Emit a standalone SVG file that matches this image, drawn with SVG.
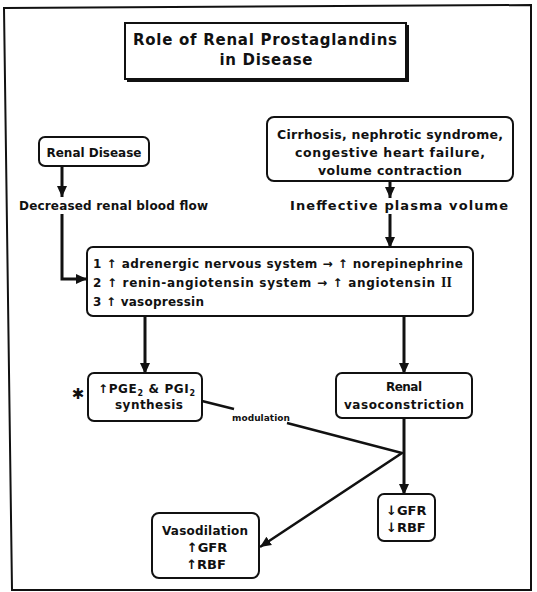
<svg xmlns="http://www.w3.org/2000/svg" width="537" height="592" viewBox="0 0 537 592">
<style>
text{font-family:"DejaVu Sans","Liberation Sans",sans-serif;font-weight:bold;fill:#111}
.box{fill:#fff;stroke:#111;stroke-width:2}
.c{stroke:#111;stroke-width:3;fill:none}
.m{stroke:#111;stroke-width:2.5;fill:none}
.f13{font-size:12.5px}
.f12{font-size:12px}
</style>
<defs>
<marker id="ah" markerUnits="userSpaceOnUse" markerWidth="12" markerHeight="12" viewBox="0 0 12 12" refX="11" refY="6" orient="auto">
<path d="M0,1 L11,6 L0,11 Z" fill="#111"/>
</marker>
</defs>
<rect width="537" height="592" fill="#fff"/>
<path d="M4,8 L531,5 L531,590 L12,590 Z" fill="none" stroke="#111" stroke-width="2"/>

<g id="title">
<rect x="127" y="25" width="282" height="57" fill="#111"/>
<rect x="125" y="23" width="281" height="56" fill="#fff" stroke="#111" stroke-width="2"/>
<text x="265" y="45" text-anchor="middle" font-size="15" textLength="264" lengthAdjust="spacing">Role of Renal Prostaglandins</text>
<text x="266" y="65" text-anchor="middle" font-size="15" textLength="93" lengthAdjust="spacing">in Disease</text>
</g>

<g id="renal-disease">
<rect class="box" x="39" y="137" width="110" height="29" rx="6"/>
<text class="f12" x="94" y="157" text-anchor="middle" textLength="95" lengthAdjust="spacing">Renal Disease</text>
</g>

<g id="cirrhosis">
<rect class="box" x="267" y="117" width="246" height="64" rx="7"/>
<text class="f13" x="390" y="139" text-anchor="middle" textLength="226" lengthAdjust="spacing">Cirrhosis, nephrotic syndrome,</text>
<text class="f13" x="390" y="157" text-anchor="middle" textLength="190" lengthAdjust="spacing">congestive heart failure,</text>
<text class="f13" x="390" y="175" text-anchor="middle" textLength="144" lengthAdjust="spacing">volume contraction</text>
</g>

<g id="decreased-flow">
<text class="f12" x="19" y="210" textLength="189" lengthAdjust="spacing">Decreased renal blood flow</text>
</g>

<g id="ineffective-volume">
<text x="290" y="210" font-size="13" textLength="218" lengthAdjust="spacing">Ineffective plasma volume</text>
</g>

<g id="mechanisms">
<rect class="box" x="87" y="247" width="386" height="69" rx="6"/>
<text class="f12" x="93" y="268" textLength="370" lengthAdjust="spacing">1 ↑ adrenergic nervous system → ↑ norepinephrine</text>
<text class="f12" x="93" y="287" textLength="342" lengthAdjust="spacing">2 ↑ renin-angiotensin system → ↑ angiotensin</text>
<text x="441" y="287" font-size="14" style="font-family:'Liberation Serif','DejaVu Serif',serif">II</text>
<text class="f12" x="93" y="306" textLength="111" lengthAdjust="spacing">3 ↑ vasopressin</text>
</g>

<g id="pge-synthesis">
<rect class="box" x="88" y="373" width="114" height="48" rx="6"/>
<text class="f12" x="98" y="393" textLength="97" lengthAdjust="spacing">↑PGE<tspan font-size="8" dy="3">2</tspan><tspan dy="-3"> &amp; PGI</tspan><tspan font-size="8" dy="3">2</tspan></text>
<text class="f12" x="149" y="409" text-anchor="middle" textLength="68" lengthAdjust="spacing">synthesis</text>
<text x="78" y="399" text-anchor="middle" font-size="15">✱</text>
</g>

<g id="renal-vasoconstriction">
<rect class="box" x="336" y="373" width="136" height="45" rx="6"/>
<text class="f12" x="404" y="391" text-anchor="middle" textLength="36" lengthAdjust="spacing">Renal</text>
<text class="f12" x="404" y="409" text-anchor="middle" textLength="120" lengthAdjust="spacing">vasoconstriction</text>
</g>

<g id="decreased-gfr">
<rect class="box" x="378" y="494" width="57" height="47" rx="6"/>
<text x="386" y="515" font-size="13">↓GFR</text>
<text x="386" y="532" font-size="13">↓RBF</text>
</g>

<g id="vasodilation">
<rect class="box" x="152" y="513" width="107" height="65" rx="7"/>
<text class="f12" x="205" y="535" text-anchor="middle" textLength="86" lengthAdjust="spacing">Vasodilation</text>
<text x="207" y="552" text-anchor="middle" font-size="13">↑GFR</text>
<text x="206" y="569" text-anchor="middle" font-size="13">↑RBF</text>
</g>

<g id="connectors">
<line class="c" x1="62" y1="166" x2="62" y2="197" marker-end="url(#ah)"/>
<path class="c" d="M62,214 V279 H87" marker-end="url(#ah)"/>
<line class="c" x1="390" y1="181" x2="390" y2="198" marker-end="url(#ah)"/>
<line class="c" x1="390" y1="214" x2="390" y2="248" marker-end="url(#ah)"/>
<line class="c" x1="145" y1="316" x2="145" y2="374" marker-end="url(#ah)"/>
<line class="c" x1="404" y1="316" x2="404" y2="374" marker-end="url(#ah)"/>
<line class="c" x1="404" y1="418" x2="404" y2="495" marker-end="url(#ah)"/>
<line class="m" x1="202" y1="401" x2="234" y2="409"/>
<polyline class="m" points="287,423 402,453 260,547" marker-end="url(#ah)"/>
<text x="232" y="421" font-size="9" textLength="58" lengthAdjust="spacing">modulation</text>
</g>
</svg>
